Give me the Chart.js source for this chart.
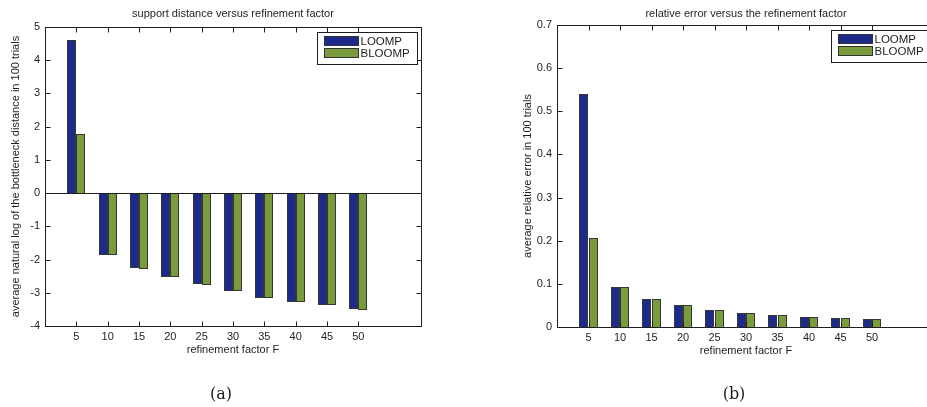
<!DOCTYPE html>
<html>
<head>
<meta charset="utf-8">
<script src="https://cdn.jsdelivr.net/npm/chart.js@4.4.1/dist/chart.umd.min.js"></script>
<style>
  html, body { margin: 0; padding: 0; background: #fff; }
  body { position: relative; width: 927px; height: 407px; overflow: hidden; }
  canvas { position: absolute; top: 0; }
  #distChart { left: 0; }
  #errChart { left: 510px; }
</style>
</head>
<body>
<canvas id="distChart" width="460" height="407"></canvas>
<canvas id="errChart" width="460" height="407"></canvas>
<script>
// Refinement factors on the horizontal axis
const refinementFactors = [5, 10, 15, 20, 25, 30, 35, 40, 45, 50];
const seriesNames = ['LOOMP', 'BLOOMP'];

// (a) average natural log of the bottleneck distance, 100 trials
const logDistLOOMP  = [4.60, -1.85, -2.26, -2.52, -2.75, -2.94, -3.15, -3.27, -3.36, -3.50];
const logDistBLOOMP = [1.78, -1.86, -2.27, -2.53, -2.76, -2.95, -3.16, -3.28, -3.37, -3.51];
const logDistTicks  = [-4, -3, -2, -1, 0, 1, 2, 3, 4, 5];

// (b) average relative error, 100 trials
const relErrLOOMP  = [0.540, 0.093, 0.065, 0.050, 0.039, 0.032, 0.027, 0.024, 0.022, 0.019];
const relErrBLOOMP = [0.206, 0.093, 0.065, 0.050, 0.039, 0.032, 0.027, 0.024, 0.022, 0.019];
const relErrTicks  = [0, 0.1, 0.2, 0.3, 0.4, 0.5, 0.6, 0.7];

const BLUE = '#1d2a8a';
const GREEN = '#7a9b3c';
const INK = '#1e1e1e';
const SANS = '"Liberation Sans", Arial, Helvetica, sans-serif';

// Snap bar edges to whole pixels so the outlines stay crisp
const snapBarsPlugin = {
  id: 'snapBars',
  afterDatasetsUpdate(chart) {
    chart.data.datasets.forEach((ds, i) => {
      chart.getDatasetMeta(i).data.forEach(el => {
        const w = Math.round(el.width);
        const left = Math.round(el.x - el.width / 2);
        el.width = w;
        el.x = left + w / 2;
        el.y = Math.round(el.y);
        el.base = Math.round(el.base);
      });
    });
  }
};

// Axes box with inward tick marks on all four sides
const framePlugin = {
  id: 'frame',
  afterDatasetsDraw(chart) {
    const { ctx, chartArea: a, scales: { x, y } } = chart;
    const tl = 5;
    ctx.save();
    ctx.strokeStyle = INK;
    ctx.lineWidth = 1;
    const L = Math.round(a.left) + 0.5, R = Math.round(a.right) + 0.5;
    const T = Math.round(a.top) + 0.5, B = Math.round(a.bottom) + 0.5;
    ctx.strokeRect(L, T, R - L, B - T);
    ctx.beginPath();
    refinementFactors.forEach(f => {
      const px = Math.round(x.getPixelForValue(f)) + 0.5;
      ctx.moveTo(px, T); ctx.lineTo(px, T + tl);
      ctx.moveTo(px, B); ctx.lineTo(px, B - tl);
    });
    y.ticks.forEach(t => {
      const py = Math.round(y.getPixelForValue(t.value)) + 0.5;
      ctx.moveTo(L, py); ctx.lineTo(L + tl, py);
      ctx.moveTo(R, py); ctx.lineTo(R - tl, py);
    });
    ctx.stroke();
    ctx.restore();
  }
};

// Boxed legend in the upper right corner of the axes
const boxLegendPlugin = {
  id: 'boxLegend',
  afterDraw(chart) {
    const { ctx, chartArea: a } = chart;
    const w = 100, h = 32;
    const bx = Math.round(a.right - 4 - w) + 0.5;
    const by = Math.round(a.top + 5) + 0.5;
    ctx.save();
    ctx.fillStyle = '#fff';
    ctx.fillRect(bx, by, w, h);
    ctx.strokeStyle = INK;
    ctx.lineWidth = 1;
    ctx.strokeRect(bx, by, w, h);
    ctx.font = '11.5px ' + SANS;
    ctx.textBaseline = 'middle';
    chart.data.datasets.forEach((ds, i) => {
      const sx = bx + 7, sy = by + 4 + i * 12, sw = 34, sh = 9;
      ctx.fillStyle = ds.backgroundColor;
      ctx.fillRect(sx, sy, sw, sh);
      ctx.strokeStyle = '#333';
      ctx.strokeRect(sx, sy, sw, sh);
      ctx.fillStyle = INK;
      ctx.fillText(ds.label, sx + sw + 2, sy + sh / 2 + 0.5);
    });
    ctx.restore();
  }
};

function makeChart(id, o) {
  const points = vals => vals.map((v, i) => ({ x: refinementFactors[i], y: v }));
  return new Chart(document.getElementById(id), {
    type: 'bar',
    data: {
      datasets: [
        { label: seriesNames[0], data: points(o.a), backgroundColor: BLUE },
        { label: seriesNames[1], data: points(o.b), backgroundColor: GREEN }
      ]
    },
    options: {
      responsive: false,
      animation: false,
      devicePixelRatio: 1,
      layout: { padding: { left: 0, right: o.padRight, top: 0, bottom: 0 } },
      datasets: {
        bar: {
          categoryPercentage: 0.575,
          barPercentage: 1,
          borderWidth: 1,
          borderColor: 'rgba(20,20,20,0.85)',
          borderSkipped: 'start',
          inflateAmount: 0
        }
      },
      plugins: {
        legend: { display: false },
        tooltip: { enabled: false },
        title: {
          display: true,
          text: o.title,
          fullSize: false,
          color: INK,
          font: { family: SANS, size: 11, weight: 'normal' },
          padding: { top: o.titleTop, bottom: o.titleBottom }
        },
        subtitle: {
          display: true,
          position: 'bottom',
          text: o.caption,
          color: INK,
          font: { family: '"DejaVu Serif", serif', size: 16, weight: 'normal' },
          padding: { top: 0, bottom: 3 }
        }
      },
      scales: {
        x: {
          type: 'linear',
          min: 0,
          max: 60,
          offset: false,
          grid: { display: false, drawTicks: false },
          border: { display: false },
          afterBuildTicks: s => { s.ticks = refinementFactors.map(v => ({ value: v })); },
          afterFit: s => { s.height = o.xHeight; },
          ticks: {
            autoSkip: false,
            maxRotation: 0,
            padding: 4,
            color: INK,
            font: { family: SANS, size: 11 },
            callback: v => String(v)
          },
          title: {
            display: true,
            text: 'refinement factor F',
            color: INK,
            font: { family: SANS, size: 11 },
            padding: { top: 0, bottom: o.xTitleBottom }
          }
        },
        y: {
          min: o.ticks[0],
          max: o.ticks[o.ticks.length - 1],
          afterBuildTicks: s => { s.ticks = o.ticks.map(v => ({ value: v })); },
          afterFit: s => { s.width = o.yWidth; },
          grid: {
            drawTicks: false,
            lineWidth: 1,
            color: c => (c.tick && c.tick.value === 0 ? INK : 'rgba(0,0,0,0)')
          },
          border: { display: false },
          ticks: {
            padding: 5,
            color: INK,
            font: { family: SANS, size: 11 },
            callback: o.tickFormat
          },
          title: {
            display: true,
            text: o.yTitle,
            color: INK,
            font: { family: SANS, size: 11 },
            padding: { top: o.yTitleTop, bottom: 0 }
          }
        },
        yr: {
          position: 'right',
          display: true,
          grid: { display: false, drawTicks: false },
          border: { display: false },
          ticks: { display: false },
          afterFit: s => { s.width = o.rightWidth; }
        }
      }
    },
    plugins: [snapBarsPlugin, framePlugin, boxLegendPlugin]
  });
}

makeChart('distChart', {
  a: logDistLOOMP,
  b: logDistBLOOMP,
  ticks: logDistTicks,
  tickFormat: v => String(v),
  title: 'support distance versus refinement factor',
  yTitle: 'average natural log of the bottleneck distance in 100 trials',
  caption: '(a)',
  padRight: 18,
  rightWidth: 21,
  yWidth: 45,
  yTitleTop: 9,
  titleTop: 7.4,
  titleBottom: 6.4,
  xHeight: 58.8,
  xTitleBottom: 28
});

makeChart('errChart', {
  a: relErrLOOMP,
  b: relErrBLOOMP,
  ticks: relErrTicks,
  tickFormat: v => (v === 0 ? '0' : v.toFixed(1)),
  title: 'relative error versus the refinement factor',
  yTitle: 'average relative error in 100 trials',
  caption: '(b)',
  padRight: 12,
  rightWidth: 23,
  yWidth: 47,
  yTitleTop: 11,
  titleTop: 7.4,
  titleBottom: 4.4,
  xHeight: 57.8,
  xTitleBottom: 27
});
</script>
</body>
</html>
